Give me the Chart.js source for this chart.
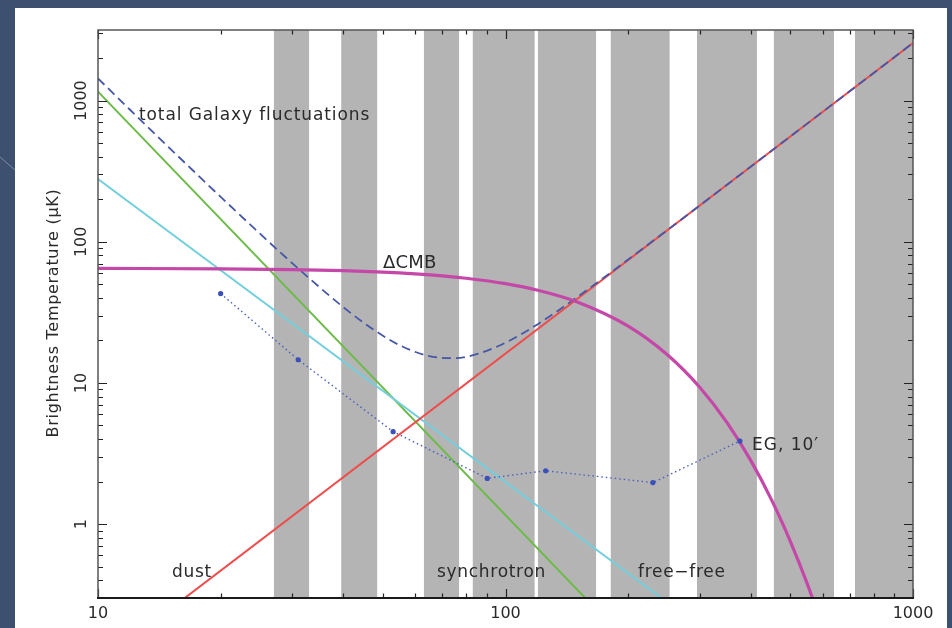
<!DOCTYPE html>
<html><head><meta charset="utf-8">
<script src="https://cdn.jsdelivr.net/npm/chart.js@4/dist/chart.umd.min.js"></script>
<style>html,body{margin:0;padding:0;background:#3e506f;overflow:hidden}canvas{display:block}</style>
</head><body>
<canvas id="c" width="952" height="628"></canvas>
<script>
// ---- axes ----
const xRange = [10, 1000];            // frequency (GHz)
const yRange = [0.3162, 3162];        // brightness temperature (uK)
const xMajorTicks = [10, 100, 1000];
const xMinorTicks = [20, 30, 40, 50, 60, 70, 80, 90, 200, 300, 400, 500, 600, 700, 800, 900];
const xTickLabels = ['10', '100', '1000'];
const yMajorTicks = [1, 10, 100, 1000];
const yMinorTicks = [0.4, 0.5, 0.6, 0.7, 0.8, 0.9, 2, 3, 4, 5, 6, 7, 8, 9, 20, 30, 40, 50, 60, 70, 80, 90,
                     200, 300, 400, 500, 600, 700, 800, 900, 2000, 3000];
const yTickLabels = ['1', '10', '100', '1000'];
const yAxisTitle = 'Brightness Temperature (\u03bcK)';

// ---- frequency bands (grey) ----
const bandLow  = [27, 39.5, 63, 83, 120, 181, 295, 455, 720];
const bandHigh = [33, 48.5, 77, 118, 167, 253, 414, 640, 1000];

// ---- foreground components ----
const galaxyFreq  = [10, 12, 14, 17, 20, 24, 28, 33, 40, 47, 55, 65, 75, 85, 100, 120, 150, 200, 300, 500, 700, 1000];
const galaxyTotal = [1435, 858, 557, 325, 208, 127, 84.2, 55.1, 34.4, 24.3, 18.5, 15.5, 15.0, 16.0, 19.3, 26.1, 40.6, 74.9, 181, 557, 1168, 2560];

const dustFreq = [10, 1000];
const dustT    = [0.102, 2560];
const syncFreq = [10, 200];
const syncT    = [1157, 0.145];
const ffFreq   = [10, 300];
const ffT      = [278, 0.188];

const cmbFreq = [10, 20, 30, 40, 50, 60, 70, 80, 100, 120, 150, 200, 250, 300, 350, 400, 450, 500, 550, 600];
const cmbT    = [64.8, 64.3, 63.5, 62.4, 61.0, 59.3, 57.4, 55.2, 50.5, 45.4, 37.5, 25.3, 15.8, 9.30, 5.22, 2.82, 1.48, 0.756, 0.379, 0.187];

const egFreq = [20, 31, 53, 90.2, 125.5, 230, 376];
const egT    = [43, 14.6, 4.52, 2.11, 2.39, 1.97, 3.88];

// ---- annotation texts ----
const labelTexts = ['total Galaxy fluctuations', '\u0394CMB', 'dust', 'synchrotron', 'free\u2212free', 'EG, 10\u2032'];

// ---- styles / layout (not data) ----
const labelLayout = [
  {x: 139, y: 119.5, size: 17, sp: 0.9},
  {x: 383, y: 267.5, size: 18, sp: 0.2},
  {x: 172, y: 577, size: 17, sp: 0.7},
  {x: 437, y: 577, size: 17, sp: 0.7},
  {x: 638, y: 577, size: 17, sp: 0.7},
  {x: 752, y: 450, size: 17, sp: 1.0}
];
const FONT = '"DejaVu Sans", "Liberation Sans", sans-serif';

const pts = (xs, ys) => xs.map((x, i) => ({x: x, y: ys[i]}));

const datasets = [];
bandLow.forEach((lo, i) => {
  datasets.push({
    data: [{x: lo, y: yRange[1]}, {x: bandHigh[i], y: yRange[1]}],
    borderWidth: 0, pointRadius: 0, fill: 'start',
    backgroundColor: '#b3b4b3', borderColor: 'rgba(0,0,0,0)', order: 10, clip: 0
  });
});
datasets.push({data: pts(ffFreq, ffT), borderColor: '#74cfdc', borderWidth: 2, pointRadius: 0, order: 6, clip: 0, fill: false});
datasets.push({data: pts(syncFreq, syncT), borderColor: '#6cbb48', borderWidth: 2, pointRadius: 0, order: 6, clip: 0, fill: false});
datasets.push({data: pts(dustFreq, dustT), borderColor: '#f04b4b', borderWidth: 2, pointRadius: 0, order: 5, clip: 0, fill: false});
datasets.push({data: pts(galaxyFreq, galaxyTotal), borderColor: '#4657a8', borderWidth: 1.8, borderDash: [9, 5],
  pointRadius: 0, order: 4, clip: 0, fill: false, cubicInterpolationMode: 'monotone'});
datasets.push({data: pts(cmbFreq, cmbT), borderColor: '#c548a8', borderWidth: 3.2, pointRadius: 0, order: 3, clip: 0,
  fill: false, cubicInterpolationMode: 'monotone'});
datasets.push({data: pts(egFreq, egT), borderColor: '#4a5fc0', borderWidth: 1.4, borderDash: [1.5, 3], pointRadius: 2.6,
  pointBackgroundColor: '#3a50b8', pointBorderWidth: 0, order: 1, clip: 0, fill: false});

const deco = {
  id: 'deco',
  beforeDraw(chart) {
    const c = chart.ctx;
    c.save();
    c.fillStyle = '#3e506f';
    c.fillRect(0, 0, 952, 628);
    c.strokeStyle = 'rgba(200,210,230,0.45)';
    c.lineWidth = 1;
    c.beginPath(); c.moveTo(0, 157); c.lineTo(15, 170); c.stroke();
    c.fillStyle = '#ffffff';
    c.fillRect(15, 8, 932, 620);
    c.restore();
  },
  afterDatasetsDraw(chart) {
    const c = chart.ctx, a = chart.chartArea, xs = chart.scales.x, ys = chart.scales.y;
    c.save();
    c.strokeStyle = '#222';
    c.lineWidth = 1.2;
    const tick = (v, len, horiz) => {
      if (horiz) {
        const px = Math.round(xs.getPixelForValue(v)) + 0.5;
        c.beginPath(); c.moveTo(px, a.bottom); c.lineTo(px, a.bottom - len);
        c.moveTo(px, a.top); c.lineTo(px, a.top + len); c.stroke();
      } else {
        const py = Math.round(ys.getPixelForValue(v)) + 0.5;
        c.beginPath(); c.moveTo(a.left, py); c.lineTo(a.left + len, py);
        c.moveTo(a.right, py); c.lineTo(a.right - len, py); c.stroke();
      }
    };
    xMinorTicks.forEach(v => tick(v, 4.5, true));
    xMajorTicks.forEach(v => tick(v, 9, true));
    yMinorTicks.forEach(v => tick(v, 5, false));
    yMajorTicks.forEach(v => tick(v, 9, false));
    // frame
    c.strokeStyle = '#555';
    c.lineWidth = 1.5;
    c.strokeRect(a.left, a.top, a.right - a.left, a.bottom - a.top);
    c.strokeStyle = '#1a1a1a';
    c.lineWidth = 2;
    c.beginPath(); c.moveTo(a.left - 1, a.bottom); c.lineTo(a.right + 1, a.bottom); c.stroke();
    c.restore();
  },
  afterDraw(chart) {
    const c = chart.ctx, a = chart.chartArea, xs = chart.scales.x, ys = chart.scales.y;
    c.save();
    c.fillStyle = '#2a2a2a';
    // x tick labels
    c.font = '16px ' + FONT;
    c.textAlign = 'center';
    c.textBaseline = 'middle';
    xMajorTicks.forEach((v, i) => c.fillText(xTickLabels[i], xs.getPixelForValue(v), 614));
    // y tick labels (rotated)
    yMajorTicks.forEach((v, i) => {
      c.save();
      c.translate(82, ys.getPixelForValue(v));
      c.rotate(-Math.PI / 2);
      c.fillText(yTickLabels[i], 0, 0);
      c.restore();
    });
    // y title
    c.save();
    c.translate(54, 313);
    c.rotate(-Math.PI / 2);
    c.font = '16px ' + FONT;
    if ('letterSpacing' in c) c.letterSpacing = '0.7px';
    c.fillText(yAxisTitle, 0, 0);
    c.restore();
    // annotations
    c.textAlign = 'left';
    c.textBaseline = 'alphabetic';
    labelTexts.forEach((t, i) => {
      const L = labelLayout[i];
      c.font = L.size + 'px ' + FONT;
      if ('letterSpacing' in c) c.letterSpacing = L.sp + 'px';
      c.fillText(t, L.x, L.y);
    });
    c.restore();
  }
};

new Chart(document.getElementById('c'), {
  type: 'line',
  data: {datasets: datasets},
  options: {
    responsive: false,
    animation: false,
    devicePixelRatio: 1,
    parsing: true,
    layout: {padding: {left: 98, right: 39, top: 30, bottom: 30}},
    plugins: {legend: {display: false}, tooltip: {enabled: false}},
    events: [],
    scales: {
      x: {type: 'logarithmic', min: xRange[0], max: xRange[1], display: false},
      y: {type: 'logarithmic', min: yRange[0], max: yRange[1], display: false}
    }
  },
  plugins: [deco]
});
</script>
</body></html>
